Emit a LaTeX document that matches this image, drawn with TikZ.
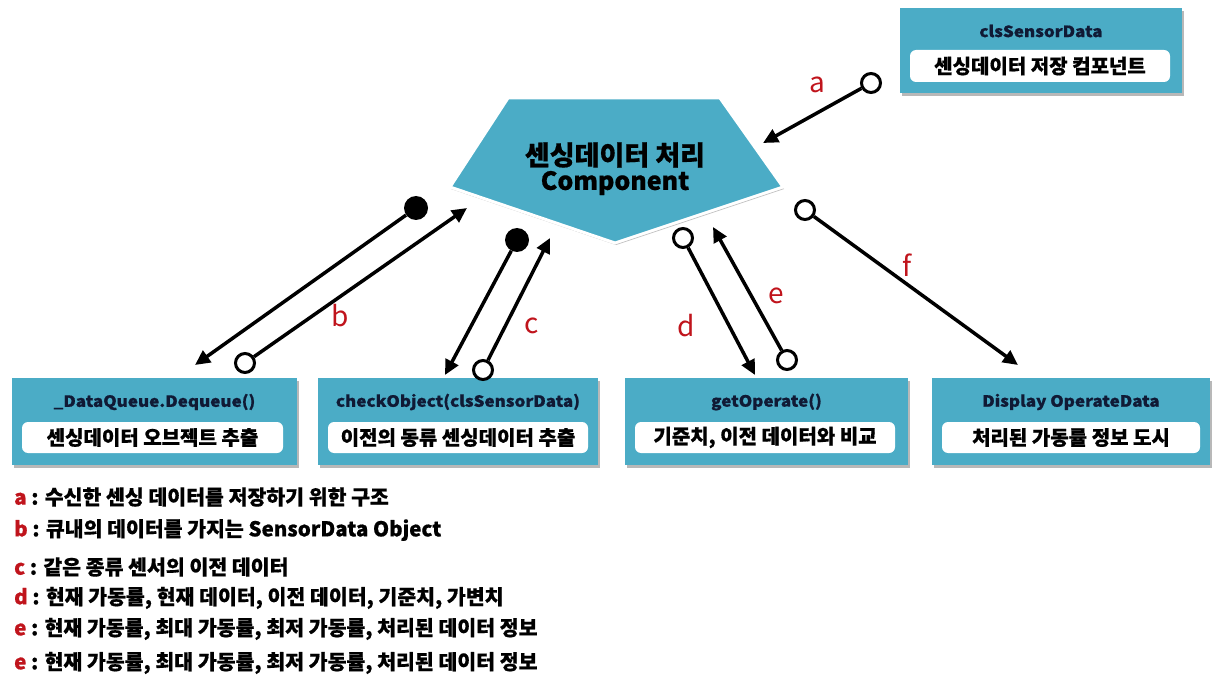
\documentclass[tikz,border=0pt]{standalone}
\usepackage{fontspec}
\setmainfont{Noto Sans CJK KR}[BoldFeatures={FakeBold=0.6}]
\newfontfamily\titlefont{Noto Sans CJK KR}[FakeStretch=1.1, BoldFeatures={FakeBold=0.8}]
\usetikzlibrary{arrows.meta,shadows}
\definecolor{boxblue}{HTML}{4BACC6}
\definecolor{titlenavy}{HTML}{101A35}
\definecolor{labred}{HTML}{C0141C}
\tikzset{
  panel/.style={fill=boxblue, minimum width=#1, minimum height=87pt, inner sep=0pt,
    drop shadow={shadow xshift=2pt, shadow yshift=-3pt, fill=black, opacity=0.28}},
  slot/.style={fill=white, rounded corners=6pt, minimum width=#1, minimum height=31pt,
    inner sep=0pt, font=\bfseries\fontsize{20}{22}\selectfont},
  paneltitle/.style={font=\titlefont\bfseries\fontsize{15.5}{17}\selectfont, text=titlenavy, inner sep=0pt},
  conn/.style={line width=3.5pt, -{Triangle[length=15pt,width=14pt]}},
  knobopen/.style={circle, draw, line width=3pt, fill=white, minimum size=19pt, inner sep=0pt},
  knobfull/.style={circle, fill=black, minimum size=24pt, inner sep=0pt},
  flowlabel/.style={text=labred, font=\fontsize{28}{30}\selectfont, inner sep=0pt},
  legend/.style={anchor=west, inner sep=0pt, font=\bfseries\fontsize{20.5}{22}\selectfont},
}
\newcommand{\lkey}[1]{\textcolor{labred}{#1}}
\begin{document}
\begin{tikzpicture}[x=1pt,y=-1pt]
\useasboundingbox (0,0) rectangle (1213,679);

% central processing component
\path[fill=boxblue, draw=white, line width=3pt,
  drop shadow={shadow xshift=1pt, shadow yshift=-2pt, fill=black, opacity=0.25}]
  (508,98) -- (720,98) -- (783,187) -- (615,243) -- (450,187) -- cycle;
\node[inner sep=0pt, font=\bfseries\fontsize{27}{28}\selectfont] (comp) at (615,155) {센싱데이터 처리};
\node[inner sep=0pt, font=\bfseries\fontsize{25}{28}\selectfont] (compb) at (615,183) {Component};

% sensor data store
\node[panel=282pt, minimum height=85pt] (store) at (1041,50.5) {};
\node[paneltitle] (storet) at (1041,31) {clsSensorData};
\node[slot=260pt, minimum height=32pt] (stores) at (1040,66) {센싱데이터 저장 컴포넌트};

% bottom components
\node[panel=285pt] (deq) at (154.5,421.5) {};
\node[paneltitle] (deqt) at (154.5,402) {\_DataQueue.Dequeue()};
\node[slot=261pt] (deqs) at (152.5,437.5) {센싱데이터 오브젝트 추출};

\node[panel=280pt] (chk) at (458,421.5) {};
\node[paneltitle] (chkt) at (458,402) {checkObject(clsSensorData)};
\node[slot=260pt] (chks) at (458,437.5) {이전의 동류 센싱데이터 추출};

\node[panel=283pt] (ope) at (766.5,421.5) {};
\node[paneltitle] (opet) at (766.5,402) {getOperate()};
\node[slot=260pt] (opes) at (765,437.5) {기준치, 이전 데이터와 비교};

\node[panel=278pt] (dsp) at (1071,421.5) {};
\node[paneltitle] (dspt) at (1071,402) {Display OperateData};
\node[slot=258pt] (dsps) at (1071,437.5) {처리된 가동률 정보 도시};

% connector ends
\node[knobopen] (ka) at (871,83) {};
\coordinate (ta) at (763,143);
\node[knobfull] (kb1) at (416,208) {};
\coordinate (tb1) at (195,365);
\node[knobopen] (kb2) at (245,363) {};
\coordinate (tb2) at (467,208);
\node[knobfull] (kc1) at (517,240) {};
\coordinate (tc1) at (445,375);
\node[knobopen] (kc2) at (483,370) {};
\coordinate (tc2) at (550,238);
\node[knobopen] (kd) at (683,238) {};
\coordinate (td) at (755,375);
\node[knobopen] (ke) at (787,360) {};
\coordinate (te) at (713,227);
\node[knobopen] (kf) at (805,210) {};
\coordinate (tf) at (1018,365);

\draw[conn] (ka) -- (ta);
\draw[conn] (kb1) -- (tb1);
\draw[conn] (kb2) -- (tb2);
\draw[conn] (kc1) -- (tc1);
\draw[conn] (kc2) -- (tc2);
\draw[conn] (kd) -- (td);
\draw[conn] (ke) -- (te);
\draw[conn] (kf) -- (tf);

% flow labels
\node[flowlabel] (la) at (817,85) {a};
\node[flowlabel] (lb) at (340,316) {b};
\node[flowlabel] (lc) at (532,326) {c};
\node[flowlabel] (ld) at (686,326) {d};
\node[flowlabel] (le) at (776,296) {e};
\node[flowlabel] (lf) at (907,265) {f};

% legend
\node[legend] (ga) at (14,497) {\lkey{a} : 수신한 센싱 데이터를 저장하기 위한 구조};
\node[legend] (gb) at (14,530) {\lkey{b} : 큐내의 데이터를 가지는 SensorData Object};
\node[legend] (gc) at (14,567) {\lkey{c} : 같은 종류 센서의 이전 데이터};
\node[legend] (gd) at (14,598) {\lkey{d} : 현재 가동률, 현재 데이터, 이전 데이터, 기준치, 가변치};
\node[legend] (ge) at (14,629) {\lkey{e} : 현재 가동률, 최대 가동률, 최저 가동률, 처리된 데이터 정보};
\node[legend] (gf) at (14,663) {\lkey{e} : 현재 가동률, 최대 가동률, 최저 가동률, 처리된 데이터 정보};
\end{tikzpicture}
\end{document}
